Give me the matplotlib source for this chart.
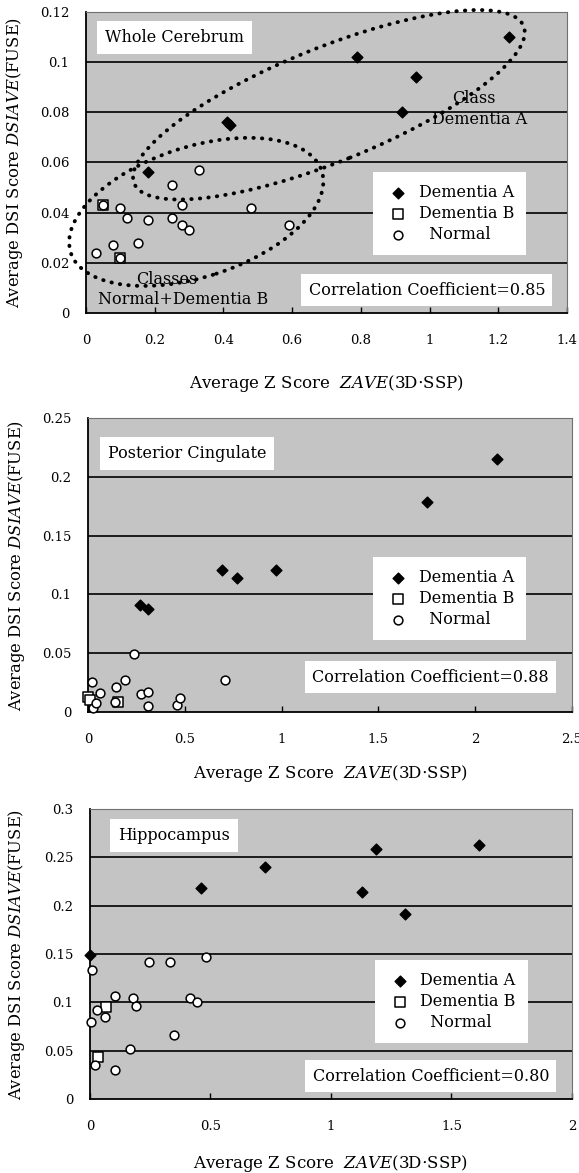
import matplotlib
matplotlib.use('Agg')
import matplotlib.pyplot as plt
from matplotlib.patches import Ellipse
from matplotlib.ticker import FuncFormatter
from matplotlib.transforms import ScaledTranslation

plt.rcParams['font.family'] = ['DejaVu Serif']
plt.rcParams['mathtext.fontset'] = 'dejavuserif'

# Whole Cerebrum
wc_a_x = [0.18, 0.41, 0.42, 0.79, 0.92, 0.96, 1.23]
wc_a_y = [0.056, 0.076, 0.075, 0.102, 0.080, 0.094, 0.110]
wc_b_x = [0.05, 0.10]
wc_b_y = [0.043, 0.022]
wc_n_x = [0.03, 0.05, 0.08, 0.10, 0.10, 0.12, 0.15, 0.18, 0.25, 0.25, 0.28, 0.28, 0.30, 0.33, 0.48, 0.59]
wc_n_y = [0.024, 0.043, 0.027, 0.042, 0.022, 0.038, 0.028, 0.037, 0.038, 0.051, 0.043, 0.035, 0.033, 0.057, 0.042, 0.035]

# Posterior Cingulate
pc_a_x = [0.27, 0.31, 0.69, 0.77, 0.97, 1.75, 2.11]
pc_a_y = [0.091, 0.088, 0.121, 0.114, 0.121, 0.179, 0.215]
pc_b_x = [0.0, 0.01, 0.155]
pc_b_y = [0.0125, 0.010, 0.0088]
pc_n_x = [0.022, 0.026, 0.043, 0.060, 0.138, 0.143, 0.193, 0.235, 0.276, 0.311, 0.311, 0.458, 0.475, 0.706]
pc_n_y = [0.0254, 0.003, 0.008, 0.0165, 0.0083, 0.021, 0.0274, 0.0496, 0.0154, 0.0168, 0.0054, 0.006, 0.0117, 0.0273]

# Hippocampus
hc_a_x = [0.0, 0.46, 0.725, 1.13, 1.186, 1.306, 1.613]
hc_a_y = [0.149, 0.218, 0.240, 0.214, 0.259, 0.191, 0.263]
hc_b_x = [0.034, 0.066]
hc_b_y = [0.0438, 0.0956]
hc_n_x = [0.003, 0.007, 0.021, 0.028, 0.062, 0.103, 0.103, 0.165, 0.179, 0.19, 0.244, 0.331, 0.347, 0.416, 0.445, 0.482]
hc_n_y = [0.080, 0.133, 0.035, 0.092, 0.085, 0.107, 0.030, 0.052, 0.104, 0.096, 0.1415, 0.1415, 0.066, 0.104, 0.1008, 0.147]

BG = '#c4c4c4'
FS = 11.5


def fmt(v, pos):
    return '%g' % round(v, 4)


def panel(rect, title, r, ax_x, ay, bx, by, nx, ny, xmax, xstep, ymax, ystep,
          leg_xy, r_xy, title_xy, xlab_y, ylab_x):
    ax = fig.add_axes(rect)
    ax.set_facecolor(BG)
    ax.set_xlim(0, xmax)
    ax.set_ylim(0, ymax)
    nxt = int(round(xmax / xstep))
    nyt = int(round(ymax / ystep))
    ax.set_xticks([i * xstep for i in range(nxt + 1)])
    ax.set_yticks([i * ystep for i in range(nyt + 1)])
    ax.xaxis.set_major_formatter(FuncFormatter(fmt))
    ax.yaxis.set_major_formatter(FuncFormatter(fmt))
    ax.tick_params(axis='x', direction='in', length=4, width=1, pad=15, labelsize=9.5)
    ax.tick_params(axis='y', length=0, pad=12, labelsize=9.5)
    for yv in ax.get_yticks()[1:]:
        ax.axhline(yv, color='black', lw=1.2, zorder=1)
    for s in ['left', 'bottom']:
        ax.spines[s].set_linewidth(1.3)
    for s in ['top', 'right']:
        ax.spines[s].set_color('#707070')
        ax.spines[s].set_linewidth(0.8)

    ax.scatter(ax_x, ay, marker='D', s=30, c='black', zorder=4, label='Dementia A', clip_on=False)
    ax.scatter(bx, by, marker='s', s=50, facecolors='white', edgecolors='black', linewidths=1.1,
               zorder=3, label='Dementia B', clip_on=False)
    ax.scatter(nx, ny, marker='o', s=40, facecolors='white', edgecolors='black', linewidths=1.1,
               zorder=3, label='  Normal', clip_on=False)

    leg = ax.legend(loc='upper left', bbox_to_anchor=leg_xy, fontsize=FS, frameon=True,
                    fancybox=False, framealpha=1, edgecolor='none', borderpad=0.75,
                    handletextpad=0.5, labelspacing=0.25, borderaxespad=0, handlelength=1.6)
    leg.get_frame().set_facecolor('white')
    leg.set_zorder(5)

    ax.text(title_xy[0], title_xy[1], title, transform=ax.transAxes, fontsize=FS,
            va='center', ha='left', zorder=5,
            bbox=dict(boxstyle='square,pad=0.5', fc='white', ec='none'))
    ax.text(r_xy[0], r_xy[1], 'Correlation Coefficient=' + r, transform=ax.transAxes,
            fontsize=FS, va='center', ha='center', zorder=5,
            bbox=dict(boxstyle='square,pad=0.45', fc='white', ec='none'))

    ax.set_xlabel(r'Average Z Score  $\mathit{ZAVE}$(3D$\cdot$SSP)', fontsize=12)
    ax.set_ylabel(r'Average DSI Score $\mathit{DSIAVE}$(FUSE)', fontsize=11.8)
    ax.xaxis.set_label_coords(0.5, xlab_y)
    ax.yaxis.set_label_coords(ylab_x, 0.5)
    return ax


def dotted_ellipse(ax, xy, w, h, angle):
    # size in inches, centred on a data point
    tr = fig.dpi_scale_trans + ScaledTranslation(xy[0], xy[1], ax.transData)
    e = Ellipse((0, 0), w, h, angle=angle, transform=tr, fill=False, ec='black',
                lw=2.8, linestyle=(0, (0.1, 2.1)), capstyle='round', clip_on=False, zorder=6)
    ax.add_patch(e)


fig = plt.figure(figsize=(5.79, 11.73), dpi=100)

ax1 = panel([0.1485, 0.7332, 0.8307, 0.2566], 'Whole Cerebrum', '0.85',
            wc_a_x, wc_a_y, wc_b_x, wc_b_y, wc_n_x, wc_n_y, 1.4, 0.2, 0.12, 0.02,
            (0.597, 0.468), (0.709, 0.076), (0.04, 0.914), -0.2, -0.127)
dotted_ellipse(ax1, (0.707, 0.083), 4.2, 1.14, 22)
dotted_ellipse(ax1, (0.321, 0.0403), 2.64, 1.30, 18)
ax1.text(1.13, 0.0856, 'Class', fontsize=FS, ha='center', va='center', zorder=7)
ax1.text(1.147, 0.077, 'Dementia A', fontsize=FS, ha='center', va='center', zorder=7)
ax1.text(0.234, 0.0135, 'Classes', fontsize=FS, ha='center', va='center', zorder=7)
ax1.text(0.282, 0.0053, 'Normal+Dementia B', fontsize=FS, ha='center', va='center', zorder=7)

panel([0.152, 0.3930, 0.836, 0.2506], 'Posterior Cingulate', '0.88',
      pc_a_x, pc_a_y, pc_b_x, pc_b_y, pc_n_x, pc_n_y, 2.5, 0.5, 0.25, 0.05,
      (0.589, 0.527), (0.707, 0.119), (0.041, 0.881), -0.173, -0.126)

panel([0.1554, 0.0631, 0.8325, 0.2472], 'Hippocampus', '0.80',
      hc_a_x, hc_a_y, hc_b_x, hc_b_y, hc_n_x, hc_n_y, 2.0, 0.5, 0.3, 0.05,
      (0.591, 0.479), (0.707, 0.079), (0.0586, 0.907), -0.186, -0.131)

fig.savefig('out.png', dpi=100, facecolor='white')
